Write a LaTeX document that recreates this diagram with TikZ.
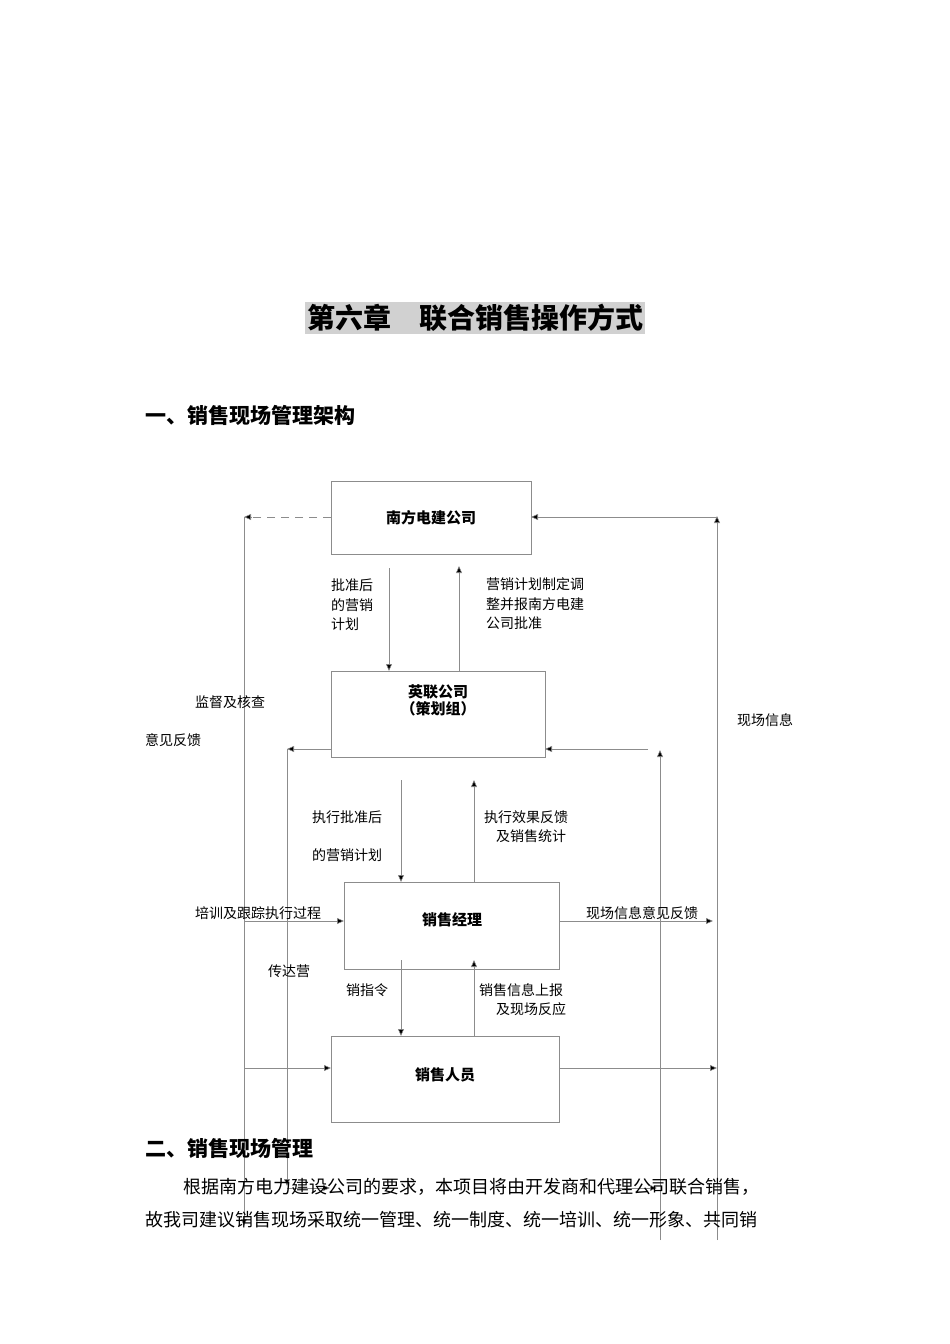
\documentclass[tikz,border=0pt]{standalone}
\usepackage{fontspec}
\setmainfont{Noto Sans CJK SC}
\newfontfamily\cjkb{Noto Sans CJK SC Bold}
\usetikzlibrary{arrows.meta}
\begin{document}
\begin{tikzpicture}[x=1pt,y=-1pt,
  ln/.style={draw=black!45,line width=0.6pt},
  ar/.style={ln,-{Triangle[length=7pt,width=6pt,fill=black]}},
  bx/.style={draw=black!45,line width=0.7pt,fill=white},
  bl/.style={font=\fontsize{15}{17}\selectfont\bfseries,align=center},
  lb/.style={font=\fontsize{14}{19.5}\selectfont,anchor=west,inner sep=0pt,align=left},
  bt/.style={font=\fontsize{18}{20}\selectfont,anchor=west,inner sep=0pt}]
\useasboundingbox (0,0) rectangle (950,1344);
% vertical lines
\draw[ar] (244,517) -- (244,1226);
\draw[ar] (287,749) -- (287,1186);
\draw[ar] (660,1240) -- (660,750);
\draw[ar] (717,1240) -- (717,516);
% boxes
\draw[bx] (331,481) rectangle (531,554); \node[bl] (A) at (431,518) {南方电建公司};
\draw[bx] (331,671) rectangle (545,757); \node[bl] (B) at (438,700) {英联公司\\（策划组）};
\draw[bx] (344,882) rectangle (559,969); \node[bl] (C) at (452,920) {销售经理};
\draw[bx] (331,1036) rectangle (559,1122); \node[bl] (D) at (445,1075) {销售人员};
\coordinate (Aw) at (331,517); \coordinate (Ae) at (531,517);
% horizontals
\draw[ln,dashed,dash pattern=on 8pt off 6pt] (Aw) -- (252,517);
\draw[ar] (252,517) -- (244,517);
\draw[ar] (717,517) -- (Ae);
\draw[ar] (331,749) -- (287,749);
\draw[ar] (648,749) -- (545,749);
\draw[ar] (244,921) -- (344,921);
\draw[ar] (559,921) -- (713,921);
\draw[ar] (244,1068) -- (331,1068);
\draw[ar] (559,1068) -- (717,1068);
\draw[ar] (287,1188) -- (330,1188);
\draw[ar] (600,1188) -- (657,1188);
% verticals between boxes
\draw[ar] (389,568) -- (389,671);
\draw[ar] (459,671) -- (459,566);
\draw[ar] (401,780) -- (401,882);
\draw[ar] (474,882) -- (474,780);
\draw[ar] (401,960) -- (401,1036);
\draw[ar] (474,1036) -- (474,960);
% labels
\node[lb] (l1) at (331,605) {批准后\\的营销\\计划};
\node[lb] (l2) at (486,604) {营销计划制定调\\整并报南方电建\\公司批准};
\node[lb] (l3) at (195,702) {监督及核查};
\node[lb] (l4) at (145,740) {意见反馈};
\node[lb] (l5) at (737,720) {现场信息};
\node[lb] (l6) at (312,817) {执行批准后};
\node[lb] (l7) at (312,855) {的营销计划};
\node[lb] (l8) at (484,817) {执行效果反馈};
\node[lb] (l9) at (496,836) {及销售统计};
\node[lb] (l10) at (195,913) {培训及跟踪执行过程};
\node[lb] (l11) at (586,913) {现场信息意见反馈};
\node[lb] (l12) at (268,971) {传达营};
\node[lb] (l13) at (346,990) {销指令};
\node[lb] (l14) at (479,990) {销售信息上报};
\node[lb] (l15) at (496,1009) {及现场反应};
% title and text
\node[fill=black!18,inner sep=2pt,font=\fontsize{28}{30}\selectfont\bfseries] (T) at (475,318) {第六章\hspace{1em}联合销售操作方式};
\node[bt,font=\fontsize{21}{23}\selectfont\bfseries] (H1) at (145,415) {一、销售现场管理架构};
\node[bt,font=\fontsize{21}{23}\selectfont\bfseries] (H2) at (145,1148) {二、销售现场管理};
\node[bt] (P1) at (183,1187) {根据南方电力建设公司的要求，本项目将由开发商和代理公司联合销售，};
\node[bt] (P2) at (145,1220) {故我司建议销售现场采取统一管理、统一制度、统一培训、统一形象、共同销};
\end{tikzpicture}
\end{document}
